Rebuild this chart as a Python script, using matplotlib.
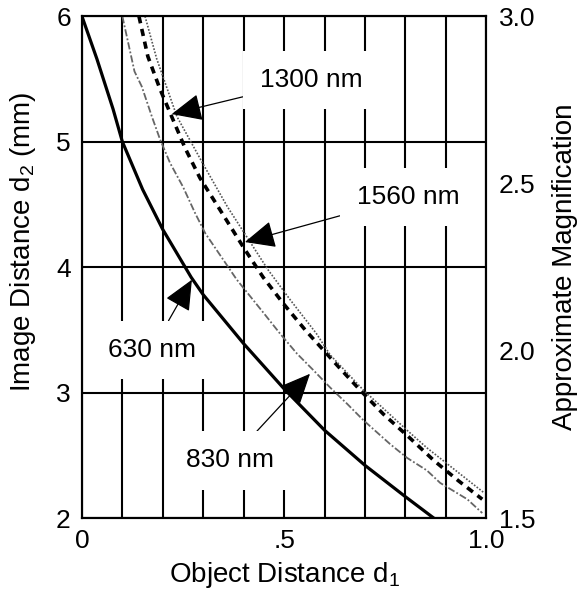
import matplotlib
matplotlib.use('Agg')
import matplotlib.pyplot as plt

plt.rcParams['font.family'] = ['Liberation Sans', 'DejaVu Sans']
plt.rcParams['mathtext.fontset'] = 'custom'
plt.rcParams['mathtext.rm'] = 'Liberation Sans'
plt.rcParams['mathtext.it'] = 'Liberation Sans'

# curves: object distance d1 vs image distance d2 (mm)
x630 = [0.0, 0.037, 0.077, 0.10, 0.15, 0.20, 0.27, 0.30, 0.40, 0.50, 0.60, 0.70, 0.80, 0.87]
y630 = [6.0, 5.66, 5.26, 5.00, 4.62, 4.30, 3.92, 3.78, 3.39, 3.03, 2.70, 2.42, 2.17, 2.00]

x830 = [0.10, 0.13, 0.148, 0.173, 0.193, 0.218, 0.25, 0.28, 0.305, 0.383, 0.408, 0.448,
        0.49, 0.532, 0.572, 0.614, 0.656, 0.696, 0.762, 0.804, 0.853, 0.886, 0.953, 0.99]
y830 = [6.0, 5.56, 5.44, 5.20, 5.02, 4.83, 4.64, 4.43, 4.27, 3.90, 3.80, 3.64,
        3.47, 3.31, 3.18, 3.04, 2.91, 2.78, 2.59, 2.48, 2.38, 2.28, 2.15, 2.04]

x1300 = [0.141, 0.163, 0.193, 0.222, 0.255, 0.292, 0.337, 0.403, 0.448, 0.498, 0.552,
         0.639, 0.688, 0.745, 0.807, 0.87, 0.93, 0.99]
y1300 = [6.0, 5.68, 5.42, 5.20, 4.95, 4.71, 4.48, 4.14, 3.92, 3.71, 3.50,
         3.19, 3.02, 2.83, 2.65, 2.46, 2.30, 2.15]

x1560 = [0.156, 0.185, 0.235, 0.30, 0.36, 0.46, 0.515, 0.58, 0.614, 0.696, 0.804, 0.853, 0.995]
y1560 = [6.0, 5.66, 5.20, 4.82, 4.48, 3.98, 3.74, 3.47, 3.30, 3.02, 2.70, 2.56, 2.20]

labels = ['630 nm', '830 nm', '1300 nm', '1560 nm']
label_pos = [(0.173, 3.34), (0.366, 2.46), (0.567, 5.49), (0.807, 4.56)]
arrow_tip = [(0.272, 3.90), (0.564, 3.15), (0.222, 5.22), (0.403, 4.20)]

mag_ticks = [1.5, 2.0, 2.5, 3.0]

fig = plt.figure(figsize=(5.81, 6.01), dpi=100)
ax = fig.add_axes([0.141, 0.138, 0.696, 0.835])
ax.set_axisbelow(True)

ax.plot(x630, y630, color='black', lw=2.3, zorder=2)
ax.plot(x830, y830, color='#666666', lw=1.3, ls=(0, (4, 1.2, 1, 1.2)), zorder=2)
ax.plot(x1300, y1300, color='black', lw=2.6, ls=(0, (2.0, 1.6)), zorder=2)
ax.plot(x1560, y1560, color='#555555', lw=1.2, ls=(0, (1, 1)), zorder=2)

ax.set_xlim(0, 1.0)
ax.set_ylim(2, 6)
ax.set_xticks([i / 10 for i in range(11)])
ax.set_xticklabels(['0', '', '', '', '', '.5', '', '', '', '', '1.0'])
ax.set_yticks([2, 3, 4, 5, 6])
ax.grid(True, color='black', lw=1.5)
ax.tick_params(length=0, labelsize=19, pad=8)
for s in ax.spines.values():
    s.set_linewidth(1.5)

ax.set_xlabel('Object Distance d$_1$', fontsize=20, labelpad=5)
ax.set_ylabel('Image Distance d$_2$ (mm)', fontsize=20, va='center')
ax.yaxis.set_label_coords(-0.145, 0.55)

for lab, pos, tip in zip(labels, label_pos, arrow_tip):
    ax.annotate(lab, xy=tip, xytext=pos, fontsize=19, ha='center', va='center',
                bbox=dict(boxstyle='square,pad=0.65', fc='white', ec='none'),
                arrowprops=dict(arrowstyle='-|>,head_length=1.0,head_width=0.45',
                                color='black', lw=0.9, shrinkA=0, shrinkB=0),
                zorder=5)

ax2 = ax.twinx()
ax2.set_ylim(1.5, 3.0)
ax2.set_yticks(mag_ticks)
ax2.set_yticklabels(['%.1f' % m for m in mag_ticks])
ax2.tick_params(length=0, labelsize=19, pad=9)
ax2.set_ylabel('Approximate Magnification', fontsize=20, labelpad=12)
for s in ax2.spines.values():
    s.set_linewidth(1.5)

fig.savefig('out.png', dpi=100)
